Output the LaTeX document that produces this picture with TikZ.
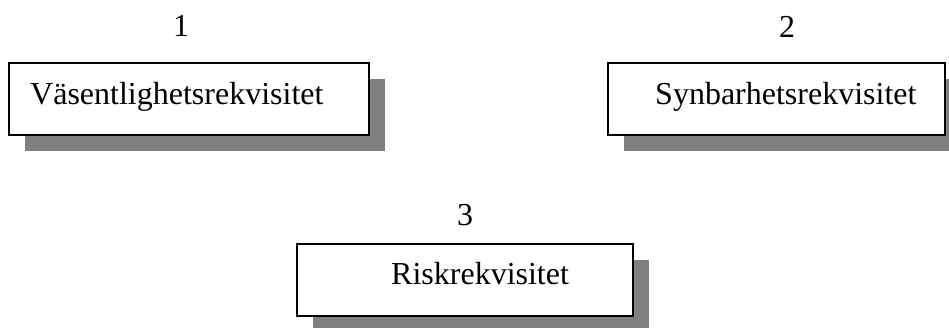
\documentclass[tikz,border=0pt]{standalone}
\usepackage{fontspec}
\setmainfont{Liberation Serif}
\usetikzlibrary{shadows}
\begin{document}
\begin{tikzpicture}[x=1pt,y=-1pt,
  reqbox/.style={draw=black, line width=1.3pt, fill=white, rectangle,
    inner sep=0pt, minimum height=72pt,
    drop shadow={shadow xshift=16pt, shadow yshift=-16pt, fill={rgb,255:red,128;green,128;blue,128}, opacity=1}},
  reqtext/.style={anchor=base west, inner sep=0pt, font=\fontsize{32}{38}\selectfont},
  numtext/.style={anchor=base, inner sep=0pt, font=\fontsize{32}{38}\selectfont}]
  \useasboundingbox (0,0) rectangle (949,327);
  \clip (0,0) rectangle (949,327);

  % boxes with their shadows
  \node[reqbox, minimum width=360pt] (b1) at (189,99) {};
  \node[reqbox, minimum width=337pt] (b2) at (776.5,99) {};
  \node[reqbox, minimum width=336pt] (b3) at (465,280) {};

  % box titles
  \node[reqtext] (t1) at (30,104) {Väsentlighetsrekvisitet};
  \node[reqtext] (t2) at (655,104) {Synbarhetsrekvisitet};
  \node[reqtext] (t3) at (391,284) {Riskrekvisitet};

  % numbers above the boxes
  \node[numtext] (n1) at (181,36) {1};
  \node[numtext] (n2) at (787,37) {2};
  \node[numtext] (n3) at (465,225) {3};
\end{tikzpicture}
\end{document}
